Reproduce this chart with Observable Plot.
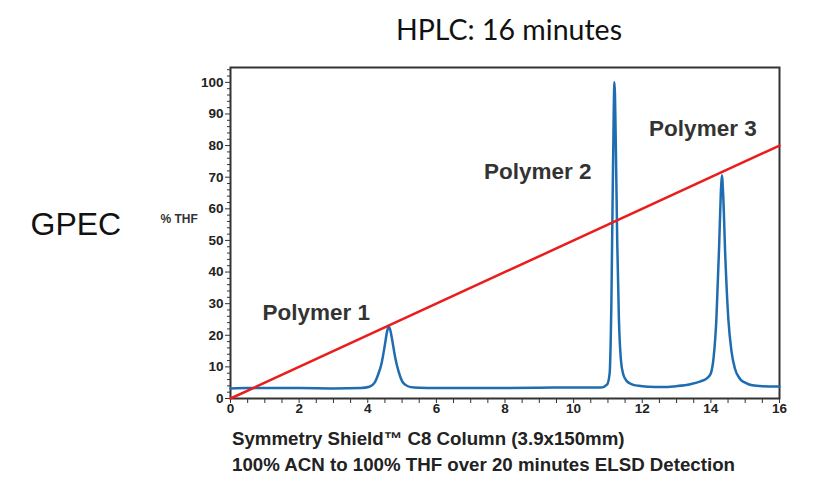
<!DOCTYPE html>
<html>
<head>
<meta charset="utf-8">
<script src="https://cdn.jsdelivr.net/npm/d3@7"></script>
<script src="https://cdn.jsdelivr.net/npm/@observablehq/plot@0.6"></script>
<style>
  body { margin: 0; background: #fff; font-family: "Liberation Sans", Arial, sans-serif; }
  #title { height: 36px; padding-top: 15px; margin-left: 396px; font-family: Lato, "Open Sans", sans-serif; font-size: 28.5px; line-height: 1; color: #111; white-space: nowrap; }
  #chart { margin-top: -1px; }
  #caption { margin-left: 232px; padding-top: 1px; font-weight: bold; font-size: 18.7px; line-height: 26px; color: #222; white-space: nowrap; }
</style>
</head>
<body>
<div id="title">HPLC: 16 minutes</div>
<div id="chart"></div>
<div id="caption">Symmetry Shield™ C8 Column (3.9x150mm)<br>100% ACN to 100% THF over 20 minutes ELSD Detection</div>
<script>
// ELSD trace (minutes, signal)
const time = [0, 0.5, 1, 2, 3, 3.8, 4.05, 4.2, 4.3, 4.4, 4.5, 4.56, 4.61, 4.66, 4.72, 4.8, 4.9, 5.0, 5.1, 5.25, 5.5,
  6, 7, 8, 9, 10, 10.8, 10.98, 11.05, 11.1, 11.15, 11.19, 11.23, 11.27, 11.32, 11.38, 11.45, 11.55, 11.7, 11.9,
  12.2, 12.5, 13.0, 13.4, 13.7, 13.9, 14.0, 14.08, 14.16, 14.24, 14.29, 14.32, 14.36, 14.42, 14.51, 14.6, 14.7,
  14.85, 15.0, 15.2, 15.5, 16]
const signal = [3.2, 3.3, 3.3, 3.3, 3.2, 3.3, 3.7, 5, 7.5, 11, 17, 21, 22.8, 21.5, 18, 13, 8.5, 5.5, 4.3, 3.6, 3.4,
  3.3, 3.3, 3.3, 3.4, 3.5, 3.5, 4.5, 8, 30, 75, 100, 80, 50, 25, 12, 7.5, 5.5, 4.5, 4.0,
  3.7, 3.6, 3.9, 4.5, 5.4, 6.5, 8, 13, 25, 48, 65, 70.6, 64, 45, 25, 15, 9.5,
  6.2, 5, 4.2, 3.9, 3.8]

// THF gradient
const gradTime = [0, 16]
const gradThf = [0, 80]

// peak labels
const peakNames = ["Polymer 1", "Polymer 2", "Polymer 3"]
const peakLabelX = [0.93, 7.39, 12.2]
const peakLabelY = [27.2, 71.8, 85.4]

const xTicks = [0, 2, 4, 6, 8, 10, 12, 14, 16]
const xMinor = [0.5, 1, 1.5, 2.5, 3, 3.5, 4.5, 5, 5.5, 6.5, 7, 7.5, 8.5, 9, 9.5, 10.5, 11, 11.5, 12.5, 13, 13.5, 14.5, 15, 15.5]
const yTicks = [0, 10, 20, 30, 40, 50, 60, 70, 80, 90, 100]
const yMinor = [2, 4, 6, 8, 12, 14, 16, 18, 22, 24, 26, 28, 32, 34, 36, 38, 42, 44, 46, 48, 52, 54, 56, 58,
  62, 64, 66, 68, 72, 74, 76, 78, 82, 84, 86, 88, 92, 94, 96, 98, 102, 104]

const trace = time.map((t, i) => ({t, s: signal[i]}))
const grad = gradTime.map((t, i) => ({t, v: gradThf[i]}))
const labels = peakNames.map((name, i) => ({name, x: peakLabelX[i], y: peakLabelY[i]}))

const tickText = { fontSize: 13.5, fontWeight: "bold", fill: "#222" }

const chart = Plot.plot({
  width: 830,
  height: 375,
  marginTop: 17,
  marginBottom: 27,
  marginLeft: 230,
  marginRight: 51,
  x: { domain: [0, 16] },
  y: { domain: [0, 104.7] },
  style: { fontFamily: "Liberation Sans, Arial, sans-serif", color: "#333", overflow: "visible" },
  marks: [
    // ticks only, the numbers are drawn as text marks below
    Plot.axisX({ ticks: xTicks, tickSize: 5, tickFormat: () => "", color: "#333", label: null }),
    Plot.axisX({ ticks: xMinor, tickSize: 5, tickFormat: () => "", color: "#333", label: null }),
    Plot.axisY({ ticks: yTicks, tickSize: 5, tickFormat: () => "", color: "#333", label: null }),
    Plot.axisY({ ticks: yMinor, tickSize: 3, tickFormat: () => "", color: "#333", label: null }),
    Plot.text(yTicks, { y: d => d, text: d => d, frameAnchor: "left", dx: -7, textAnchor: "end", ...tickText }),
    Plot.text(xTicks, { x: d => d, text: d => d, frameAnchor: "bottom", dy: 14, ...tickText }),
    Plot.frame({ stroke: "#333", strokeWidth: 2 }),
    Plot.line(trace, { x: "t", y: "s", stroke: "#1f6db0", strokeWidth: 2.5, curve: "monotone-x" }),
    Plot.line(grad, { x: "t", y: "v", stroke: "#ea1c1c", strokeWidth: 2.5 }),
    Plot.text(labels, { x: "x", y: "y", text: "name", textAnchor: "start", fontSize: 22.5, fontWeight: "bold", fill: "#333" }),
    Plot.text(["GPEC"], { frameAnchor: "left", dx: -200, dy: -8, textAnchor: "start", fontSize: 32, fill: "#111" }),
    Plot.text(["% THF"], { frameAnchor: "left", dx: -70, dy: -14, textAnchor: "start", fontSize: 12, fontWeight: "bold", fill: "#333" })
  ]
})

d3.select('#chart').append(() => chart)
</script>
</body>
</html>
